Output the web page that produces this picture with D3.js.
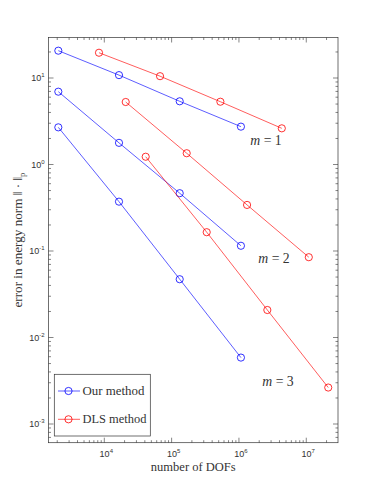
<!DOCTYPE html>
<html><head><meta charset="utf-8">
<script src="https://cdn.jsdelivr.net/npm/d3@7"></script>
<style>body{margin:0;background:#fff}svg{display:block}</style>
</head><body>
<script>
// Data
const oursDofs = [2075, 16530, 131800, 1070000];
const dlsDofsM1 = [8340, 67300, 530000, 4330000];
const dlsDofsM2 = [20800, 167500, 1320000, 10900000];
const dlsDofsM3 = [41200, 332000, 2640000, 21200000];
const oursM1 = [20.7, 10.8, 5.38, 2.74];
const oursM2 = [6.95, 1.78, 0.466, 0.115];
const oursM3 = [2.69, 0.372, 0.0472, 0.00586];
const dlsM1 = [19.6, 10.5, 5.32, 2.62];
const dlsM2 = [5.28, 1.35, 0.341, 0.0848];
const dlsM3 = [1.23, 0.165, 0.0208, 0.00264];
const xTickExps = [4, 5, 6, 7];
const yTickExps = [1, 0, -1, -2, -3];
const mValues = ["1", "2", "3"];
const legendNames = ["Our method", "DLS method"];
const colors = {ours: "#0000ff", dls: "#ff0000"};

const W = 374, H = 498;
const L = 48.5, R = 338, T = 37.5, B = 442.7;
const svg = d3.select("body").append("svg").attr("width", W).attr("height", H);

const x = d3.scaleLog().domain([1483, 2.96e7]).range([L, R]);
const y = d3.scaleLog().domain([6.08e-4, 29.4]).range([B, T]);

const axisColor = "#333333";
const tickFont = "Liberation Sans, Arial, sans-serif";
const serif = "Liberation Serif, Times New Roman, serif";

// fit a text element's font-size so its width matches target
function fit(sel, target) {
  const w = sel.node().getComputedTextLength();
  const fs = parseFloat(sel.attr("font-size"));
  if (w > 0) {
    const nfs = fs * target / w;
    sel.attr("font-size", nfs);
    sel.selectAll("tspan[data-small]").attr("font-size", nfs * 0.65);
  }
}

// ticks
const g = svg.append("g");
function logTicks(scale) {
  const [a, b] = scale.domain();
  const out = [];
  for (let e = Math.floor(Math.log10(a)); e <= Math.ceil(Math.log10(b)); e++) {
    for (let k = 1; k < 10; k++) {
      const v = k * Math.pow(10, e);
      if (v >= a && v <= b) out.push({v, major: k === 1});
    }
  }
  return out;
}
const majLen = 5, minLen = 2.5;
logTicks(x).forEach(t => {
  const px = x(t.v), len = t.major ? majLen : minLen;
  g.append("line").attr("x1", px).attr("x2", px).attr("y1", B).attr("y2", B - len).attr("stroke", axisColor).attr("stroke-width", 0.6);
  g.append("line").attr("x1", px).attr("x2", px).attr("y1", T).attr("y2", T + len).attr("stroke", axisColor).attr("stroke-width", 0.6);
});
logTicks(y).forEach(t => {
  const py = y(t.v), len = t.major ? majLen : minLen;
  g.append("line").attr("y1", py).attr("y2", py).attr("x1", L).attr("x2", L + len).attr("stroke", axisColor).attr("stroke-width", 0.6);
  g.append("line").attr("y1", py).attr("y2", py).attr("x1", R).attr("x2", R - len).attr("stroke", axisColor).attr("stroke-width", 0.6);
});
g.append("rect").attr("x", L).attr("y", T).attr("width", R - L).attr("height", B - T)
  .attr("fill", "none").attr("stroke", axisColor).attr("stroke-width", 0.7);

// tick labels
xTickExps.forEach(e => {
  const t = svg.append("text").attr("x", x(Math.pow(10, e)) + 2).attr("y", B + 14)
    .attr("text-anchor", "middle").attr("font-family", tickFont).attr("font-size", 9).attr("fill", axisColor);
  t.append("tspan").text("10");
  t.append("tspan").attr("dy", -4).attr("font-size", 6).text(e);
});
yTickExps.forEach(e => {
  const t = svg.append("text").attr("x", L - 4).attr("y", y(Math.pow(10, e)) + 3.3)
    .attr("text-anchor", "end").attr("font-family", tickFont).attr("font-size", 9).attr("fill", axisColor);
  t.append("tspan").text("10");
  t.append("tspan").attr("dy", -4).attr("font-size", 6).text(e);
});

// axis labels
const xl = svg.append("text").attr("x", (L + R) / 2).attr("y", 471).attr("text-anchor", "middle")
  .attr("font-family", serif).attr("font-size", 11).attr("fill", axisColor).text("number of DOFs");
fit(xl, 85);
const yl = svg.append("text").attr("transform", `translate(22,${(T + B) / 2}) rotate(-90)`)
  .attr("text-anchor", "middle").attr("font-family", serif).attr("font-size", 11).attr("fill", axisColor);
yl.append("tspan").text("error in energy norm ‖ · ‖");
yl.append("tspan").attr("data-small", 1).attr("dy", 2.5).attr("font-size", 7).text("p");
fit(yl, 135);

// series
const series = [
  {xs: oursDofs, ys: oursM1, c: colors.ours},
  {xs: oursDofs, ys: oursM2, c: colors.ours},
  {xs: oursDofs, ys: oursM3, c: colors.ours},
  {xs: dlsDofsM1, ys: dlsM1, c: colors.dls},
  {xs: dlsDofsM2, ys: dlsM2, c: colors.dls},
  {xs: dlsDofsM3, ys: dlsM3, c: colors.dls}
];
const line = d3.line().x(d => x(d[0])).y(d => y(d[1]));
series.forEach(s => {
  const pts = s.xs.map((v, i) => [v, s.ys[i]]);
  svg.append("path").attr("d", line(pts)).attr("fill", "none").attr("stroke", s.c).attr("stroke-width", 0.8).attr("opacity", 0.8);
  svg.selectAll(null).data(pts).enter().append("circle")
    .attr("cx", d => x(d[0])).attr("cy", d => y(d[1])).attr("r", 3.6)
    .attr("fill", "none").attr("stroke", s.c).attr("stroke-width", 1).attr("opacity", 0.8);
});

// m labels
const mPos = [[266, 145], [274, 262.5], [278, 386]];
mValues.forEach((v, i) => {
  const t = svg.append("text").attr("x", mPos[i][0]).attr("y", mPos[i][1]).attr("text-anchor", "middle")
    .attr("font-family", serif).attr("font-size", 11).attr("fill", axisColor);
  t.append("tspan").attr("font-style", "italic").text("m");
  t.append("tspan").text(" = " + v);
  fit(t, 31.5);
});

// legend
const lg = svg.append("g");
lg.append("rect").attr("x", 54.3).attr("y", 374.3).attr("width", 96).attr("height", 61.7)
  .attr("fill", "#fff").attr("stroke", axisColor).attr("stroke-width", 0.7);
[colors.ours, colors.dls].forEach((c, i) => {
  const yy = [391, 419.3][i];
  lg.append("line").attr("x1", 58).attr("x2", 80).attr("y1", yy).attr("y2", yy).attr("stroke", c).attr("stroke-width", 0.8).attr("opacity", 0.8);
  lg.append("circle").attr("cx", 68.5).attr("cy", yy).attr("r", 3.6).attr("fill", "none").attr("stroke", c).attr("stroke-width", 1).attr("opacity", 0.8);
  const t = lg.append("text").attr("x", 82.5).attr("y", yy + 4).attr("font-family", serif).attr("font-size", 11)
    .attr("fill", axisColor).text(legendNames[i]);
  fit(t, [62, 64][i]);
});
</script>
</body></html>
